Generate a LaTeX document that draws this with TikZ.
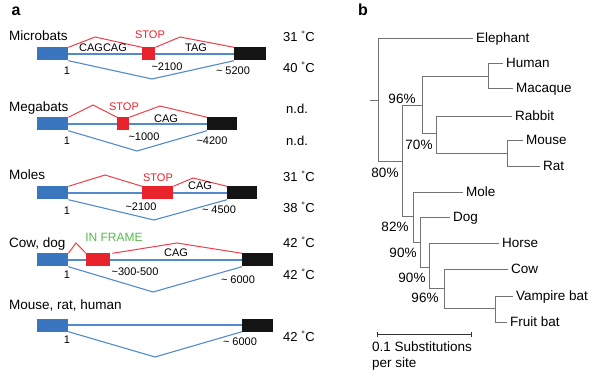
\documentclass[tikz,border=0pt]{standalone}
\usepackage{fontspec}
\setmainfont{Liberation Sans}
\usepackage{xcolor}
\usepackage{tikz}
\usetikzlibrary{arrows.meta,positioning}
\definecolor{exonblue}{RGB}{58,118,189}
\definecolor{exonblack}{RGB}{20,20,20}
\definecolor{stopred}{RGB}{232,35,43}
\definecolor{altred}{RGB}{238,62,72}
\definecolor{skipblue}{RGB}{82,138,206}
\definecolor{framegreen}{RGB}{85,190,75}
\definecolor{treegray}{RGB}{115,115,115}
\tikzset{
  exon/.style={inner sep=0pt, minimum height=13pt, minimum width=#1, anchor=west},
  firstex/.style={exon=#1, fill=exonblue},
  lastex/.style={exon=#1, fill=exonblack},
  stopex/.style={exon=#1, fill=stopred},
  intron/.style={skipblue, line width=1.1pt},
  skip/.style={skipblue, line width=1.1pt},
  alt/.style={altred, line width=1pt},
  species/.style={font=\fontsize{13.5}{16}\selectfont, inner sep=0pt, anchor=west,
                  text height=9.7pt, text depth=0pt},
  tag/.style={font=\fontsize{11}{13}\selectfont, inner sep=0pt,
              text height=7.9pt, text depth=0pt},
  temp/.style={font=\fontsize{13}{15}\selectfont, inner sep=0pt, anchor=west,
               text height=9.3pt, text depth=0pt},
  leaf/.style={font=\fontsize{13.5}{16}\selectfont, anchor=west, inner xsep=3pt,
               inner ysep=0pt, text height=9.7pt, text depth=0pt},
  boot/.style={font=\fontsize{13.5}{16}\selectfont, inner sep=0pt,
               text height=9.7pt, text depth=0pt},
  panel/.style={font=\fontsize{16}{18}\selectfont\bfseries, inner sep=0pt},
  branch/.style={treegray, line width=0.8pt},
}
\newcommand{\degC}[1]{#1 \textsuperscript{°}C}

\begin{document}
\begin{tikzpicture}[x=1pt, y=-1pt]
  \useasboundingbox (0,0) rectangle (600,374);

  % ---- panel a: splicing patterns ----
  \node[panel] (pa) at (16,11) {a};

  % Microbats
  \node[species] (microName) at (9,36) {Microbats};
  \node[firstex=31pt] (microFirst) at (37,54) {};
  \node[stopex=13pt] (microStop) at (142,54) {};
  \node[lastex=32pt] (microLast) at (234,54) {};
  \coordinate (microUpA) at (95,37);
  \coordinate (microUpB) at (180,37);
  \coordinate (microDip) at (152,79);
  \draw[intron] (microFirst) -- (microStop);
  \draw[intron] (microStop) -- (microLast);
  \draw[skip] (microFirst.south east) -- (microDip) -- (microLast.south west);
  \draw[alt] (microFirst.north east) -- (microUpA) -- (microStop.north west);
  \draw[alt] (microStop.north east) -- (microUpB) -- (microLast.north west);
  \node[tag] (microCag) at (103,48) {CAGCAG};
  \node[tag, text=stopred] (microStopTxt) at (150,35) {STOP};
  \node[tag] (microTag) at (196,48) {TAG};
  \node[tag] (microOne) at (67,71) {1};
  \node[tag] (microPos) at (167,67) {\textasciitilde2100};
  \node[tag] (microEnd) at (233,71) {\textasciitilde\ 5200};
  \node[temp] (microTa) at (283,37) {\degC{31}};
  \node[temp] (microTb) at (283,68) {\degC{40}};

  % Megabats
  \node[species] (megaName) at (9,107) {Megabats};
  \node[firstex=31pt] (megaFirst) at (37,124) {};
  \node[stopex=12pt] (megaStop) at (117,124) {};
  \node[lastex=30pt] (megaLast) at (207,124) {};
  \coordinate (megaUpA) at (93,105);
  \coordinate (megaUpB) at (160,106);
  \coordinate (megaDip) at (137,151);
  \draw[intron] (megaFirst) -- (megaStop);
  \draw[intron] (megaStop) -- (megaLast);
  \draw[skip] (megaFirst.south east) -- (megaDip) -- (megaLast.south west);
  \draw[alt] (megaFirst.north east) -- (megaUpA) -- (megaStop.north west);
  \draw[alt] (megaStop.north east) -- (megaUpB) -- (megaLast.north west);
  \node[tag, text=stopred] (megaStopTxt) at (124,107) {STOP};
  \node[tag] (megaCag) at (166,119) {CAG};
  \node[tag] (megaOne) at (67,141) {1};
  \node[tag] (megaPos) at (144,137) {\textasciitilde1000};
  \node[tag] (megaEnd) at (212,141) {\textasciitilde4200};
  \node[temp] (megaTa) at (286,109) {n.d.};
  \node[temp] (megaTb) at (286,141) {n.d.};

  % Moles
  \node[species] (moleName) at (9,175) {Moles};
  \node[firstex=31pt] (moleFirst) at (37,193) {};
  \node[stopex=31pt] (moleStop) at (142,193) {};
  \node[lastex=30pt] (moleLast) at (227,193) {};
  \coordinate (moleUpA) at (105,175);
  \coordinate (moleUpB) at (193,178);
  \coordinate (moleDip) at (154,220);
  \draw[intron] (moleFirst) -- (moleStop);
  \draw[intron] (moleStop) -- (moleLast);
  \draw[skip] (moleFirst.south east) -- (moleDip) -- (moleLast.south west);
  \draw[alt] (moleFirst.north east) -- (moleUpA) -- (moleStop.north west);
  \draw[alt] (moleStop.north east) -- (moleUpB) -- (moleLast.north west);
  \node[tag, text=stopred] (moleStopTxt) at (158,178) {STOP};
  \node[tag] (moleCag) at (200,186) {CAG};
  \node[tag] (moleOne) at (67,211) {1};
  \node[tag] (molePos) at (141,207) {\textasciitilde2100};
  \node[tag] (moleEnd) at (219,210) {\textasciitilde\ 4500};
  \node[temp] (moleTa) at (283,177) {\degC{31}};
  \node[temp] (moleTb) at (283,208) {\degC{38}};

  % Cow, dog
  \node[species] (cowName) at (9,243) {Cow, dog};
  \node[firstex=31pt] (cowFirst) at (37,260) {};
  \node[stopex=24pt] (cowFrame) at (86,260) {};
  \node[lastex=31pt] (cowLast) at (242,260) {};
  \coordinate (cowUpA) at (76,243);
  \coordinate (cowUpB) at (177,243);
  \coordinate (cowDip) at (153,292);
  \draw[intron] (cowFirst) -- (cowFrame);
  \draw[intron] (cowFrame) -- (cowLast);
  \draw[skip] (cowFirst.south east) -- (cowDip) -- (cowLast.south west);
  \draw[alt] (cowFirst.north east) -- (cowUpA) -- (cowFrame.north west);
  \draw[alt] ([xshift=2pt]cowFrame.north east) -- (cowUpB) -- (cowLast.north west);
  \node[tag, text=framegreen, font=\fontsize{12}{14}\selectfont] (cowFrameTxt) at (114,238) {IN FRAME};
  \node[tag] (cowCag) at (176,253) {CAG};
  \node[tag] (cowOne) at (67,275) {1};
  \node[tag] (cowPos) at (135,272) {\textasciitilde300-500};
  \node[tag] (cowEnd) at (238,280) {\textasciitilde\ 6000};
  \node[temp] (cowTa) at (283,243) {\degC{42}};
  \node[temp] (cowTb) at (283,275) {\degC{42}};

  % Mouse, rat, human
  \node[species] (mouseName) at (9,305) {Mouse, rat, human};
  \node[firstex=31pt] (mouseFirst) at (37,325) {};
  \node[lastex=31pt] (mouseLast) at (242,325) {};
  \coordinate (mouseDip) at (155,357);
  \draw[intron] (mouseFirst) -- (mouseLast);
  \draw[skip] (mouseFirst.south east) -- (mouseDip) -- (mouseLast.south west);
  \node[tag] (mouseOne) at (67,340) {1};
  \node[tag] (mouseEnd) at (240,342) {\textasciitilde\ 6000};
  \node[temp] (mouseT) at (283,337) {\degC{42}};

  % ---- panel b: tree ----
  \node[panel] (pb) at (363,10) {b};

  \coordinate (rootStub) at (370,100);
  \coordinate (root) at (378,100);
  \coordinate (nA) at (402,161);
  \coordinate (nB) at (422,105);
  \coordinate (nC) at (488,76);
  \coordinate (nD) at (436,133);
  \coordinate (nE) at (507,153);
  \coordinate (nF) at (413,216);
  \coordinate (nG) at (420,242);
  \coordinate (nH) at (429,267);
  \coordinate (nI) at (444,288);
  \coordinate (nJ) at (495,308);

  \node[leaf] (elephant) at (473,38) {Elephant};
  \node[leaf] (human) at (503,63) {Human};
  \node[leaf] (macaque) at (513,88) {Macaque};
  \node[leaf] (rabbit) at (512,116) {Rabbit};
  \node[leaf] (mouse) at (523,140) {Mouse};
  \node[leaf] (rat) at (540,166) {Rat};
  \node[leaf] (mole) at (463,192) {Mole};
  \node[leaf] (dog) at (450,217) {Dog};
  \node[leaf] (horse) at (499,243) {Horse};
  \node[leaf] (cow) at (508,269) {Cow};
  \node[leaf] (vampire) at (513,296) {Vampire bat};
  \node[leaf] (fruitbat) at (507,322) {Fruit bat};

  \draw[branch] (rootStub) -- (root);
  \draw[branch] (root) |- (elephant.west);
  \draw[branch] (root) |- (nA);
  \draw[branch] (nA) |- (nB);
  \draw[branch] (nA) |- (nF);
  \draw[branch] (nB) |- (nC);
  \draw[branch] (nB) |- (nD);
  \draw[branch] (nC) |- (human.west);
  \draw[branch] (nC) |- (macaque.west);
  \draw[branch] (nD) |- (rabbit.west);
  \draw[branch] (nD) |- (nE);
  \draw[branch] (nE) |- (mouse.west);
  \draw[branch] (nE) |- (rat.west);
  \draw[branch] (nF) |- (mole.west);
  \draw[branch] (nF) |- (nG);
  \draw[branch] (nG) |- (dog.west);
  \draw[branch] (nG) |- (nH);
  \draw[branch] (nH) |- (horse.west);
  \draw[branch] (nH) |- (nI);
  \draw[branch] (nI) |- (cow.west);
  \draw[branch] (nI) |- (nJ);
  \draw[branch] (nJ) |- (vampire.west);
  \draw[branch] (nJ) |- (fruitbat.west);

  \node[boot] (bootB) at (402,99) {96\%};
  \node[boot] (bootD) at (419,145) {70\%};
  \node[boot] (bootA) at (385,173) {80\%};
  \node[boot] (bootF) at (395,227) {82\%};
  \node[boot] (bootG) at (403,253) {90\%};
  \node[boot] (bootH) at (412,278) {90\%};
  \node[boot] (bootI) at (425,298) {96\%};

  % scale bar
  \coordinate (scaleL) at (377,334);
  \coordinate (scaleR) at (472,334);
  \draw[black!80, line width=0.9pt, {Bar[width=5pt]}-{Bar[width=5pt]}] (scaleL) -- (scaleR);
  \node[font=\fontsize{13.5}{16}\selectfont, inner sep=0pt, anchor=north west, align=left]
    (scaleTxt) at (372,342) {0.1 Substitutions\\per site};
\end{tikzpicture}
\end{document}
